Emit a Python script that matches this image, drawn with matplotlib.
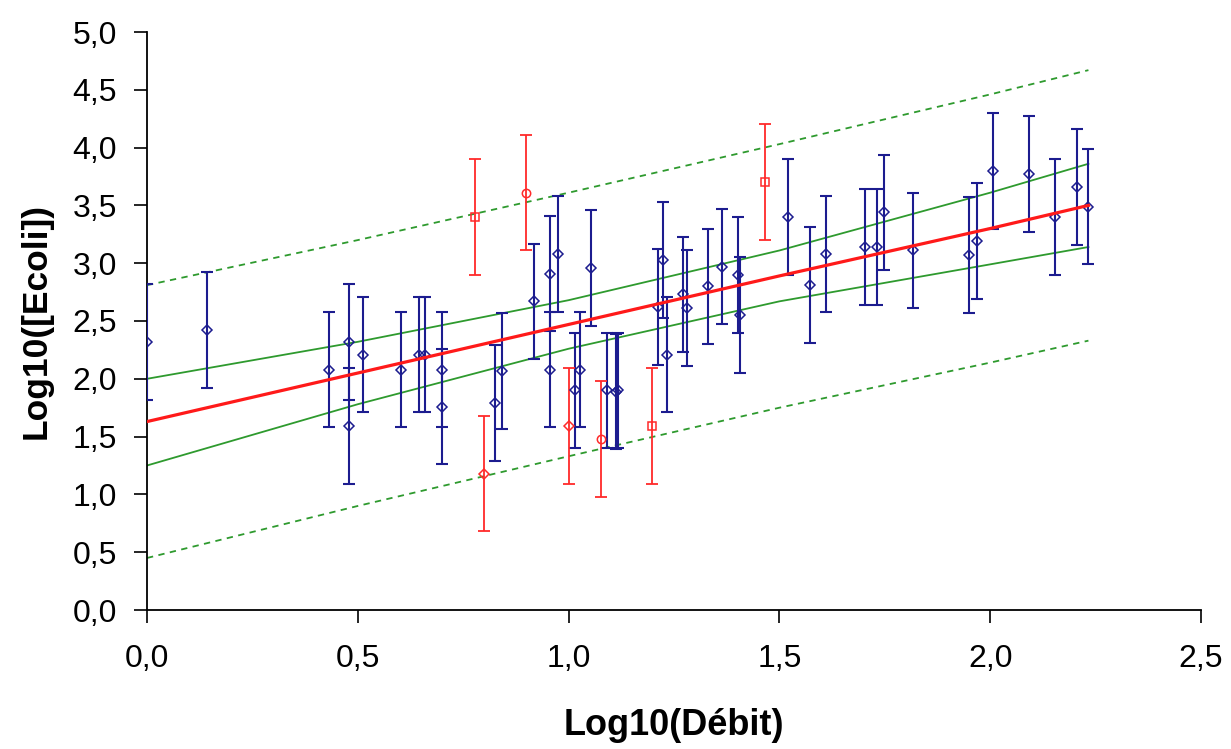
import numpy as np
import matplotlib
matplotlib.use("Agg")
import matplotlib.pyplot as plt

plt.rcParams['font.family'] = ['Liberation Sans', 'DejaVu Sans']

# points used for the fit (blue)
blue_x = [0.0, 0.143, 0.432, 0.478, 0.478, 0.512, 0.603, 0.646, 0.660, 0.70, 0.70,
          0.825, 0.841, 0.919, 0.955, 0.955, 0.974, 1.015, 1.027, 1.053, 1.092,
          1.113, 1.118, 1.211, 1.223, 1.233, 1.271, 1.281, 1.331, 1.365, 1.401,
          1.406, 1.521, 1.573, 1.611, 1.703, 1.731, 1.748, 1.817, 1.949, 1.969,
          2.006, 2.093, 2.154, 2.207, 2.233]
blue_y = [2.32, 2.42, 2.08, 2.32, 1.59, 2.21, 2.08, 2.21, 2.21, 2.08, 1.76,
          1.79, 2.07, 2.67, 2.91, 2.08, 3.08, 1.90, 2.08, 2.96, 1.90,
          1.89, 1.90, 2.62, 3.03, 2.21, 2.73, 2.61, 2.80, 2.97, 2.90,
          2.55, 3.40, 2.81, 3.08, 3.14, 3.14, 3.44, 3.11, 3.07, 3.19,
          3.80, 3.77, 3.40, 3.66, 3.49]
# excluded points (red)
red_x = [0.779, 0.90, 1.467, 0.80, 1.001, 1.077, 1.198]
red_y = [3.40, 3.61, 3.70, 1.18, 1.59, 1.48, 1.59]
red_mk = ['s', 'o', 's', 'D', 'D', 'o', 's']
err = 0.5

# regression line and bands
band_x = [0.0, 0.5, 1.0, 1.5, 2.0, 2.233]
fit_y = [1.63, 2.05, 2.47, 2.89, 3.30, 3.50]
ci_up = [2.00, 2.32, 2.68, 3.11, 3.61, 3.86]
ci_lo = [1.25, 1.78, 2.26, 2.67, 2.99, 3.14]
pi_up = [2.81, 3.20, 3.61, 4.03, 4.46, 4.67]
pi_lo = [0.45, 0.90, 1.33, 1.75, 2.14, 2.33]

xticks = [0.0, 0.5, 1.0, 1.5, 2.0, 2.5]
xtick_labels = ['0,0', '0,5', '1,0', '1,5', '2,0', '2,5']
yticks = [0.0, 0.5, 1.0, 1.5, 2.0, 2.5, 3.0, 3.5, 4.0, 4.5, 5.0]
ytick_labels = ['0,0', '0,5', '1,0', '1,5', '2,0', '2,5', '3,0', '3,5', '4,0', '4,5', '5,0']

fig = plt.figure(figsize=(12.31, 7.49), dpi=100)
ax = fig.add_axes([147/1231, 1-610/749, (1201-147)/1231, (610-32)/749])

green = '#2e9a2e'
ax.plot(band_x, pi_up, color=green, lw=1.3, ls=(0, (3.5, 3)))
ax.plot(band_x, pi_lo, color=green, lw=1.3, ls=(0, (3.5, 3)))
ax.plot(band_x, ci_up, color=green, lw=1.3)
ax.plot(band_x, ci_lo, color=green, lw=1.3)

navy = '#1c1c8f'
ax.errorbar(blue_x, blue_y, yerr=err, fmt='none', ecolor=navy, elinewidth=1.5,
            capsize=4, capthick=1.5, zorder=3)
ax.plot(blue_x, blue_y, 'D', ms=5.5, mfc='none', mec=navy, mew=1.1, zorder=4)

ax.errorbar(red_x, red_y, yerr=err, fmt='none', ecolor='#ff2a2a', elinewidth=1.3,
            capsize=4, capthick=1.3, zorder=3)
for x, y, m in zip(red_x, red_y, red_mk):
    ax.plot(x, y, m, ms=5.5 if m == 'D' else 6, mfc='none', mec='#ff2a2a', mew=1.1, zorder=4)

ax.plot(band_x, fit_y, color='#ff1a1a', lw=2.3, zorder=5)

ax.set_xlim(0, 2.5)
ax.set_ylim(0, 5)
ax.spines['top'].set_visible(False)
ax.spines['right'].set_visible(False)
for s in ['left', 'bottom']:
    ax.spines[s].set_linewidth(1.3)
ax.set_xticks(xticks)
ax.set_xticklabels(xtick_labels)
ax.set_yticks(yticks)
ax.set_yticklabels(ytick_labels)
ax.tick_params(axis='x', length=9.5, width=1.2, pad=15, labelsize=23)
ax.tick_params(axis='y', length=9.5, width=1.2, pad=12, labelsize=23)
ax.set_xlabel('Log10(Débit)', fontsize=26, fontweight='bold')
ax.set_ylabel('Log10([Ecoli])', fontsize=25.5, fontweight='bold')
ax.xaxis.set_label_coords(0.5, -0.1696)
ax.yaxis.set_label_coords(-0.090, 0.5)

fig.savefig('out.png', dpi=100)
